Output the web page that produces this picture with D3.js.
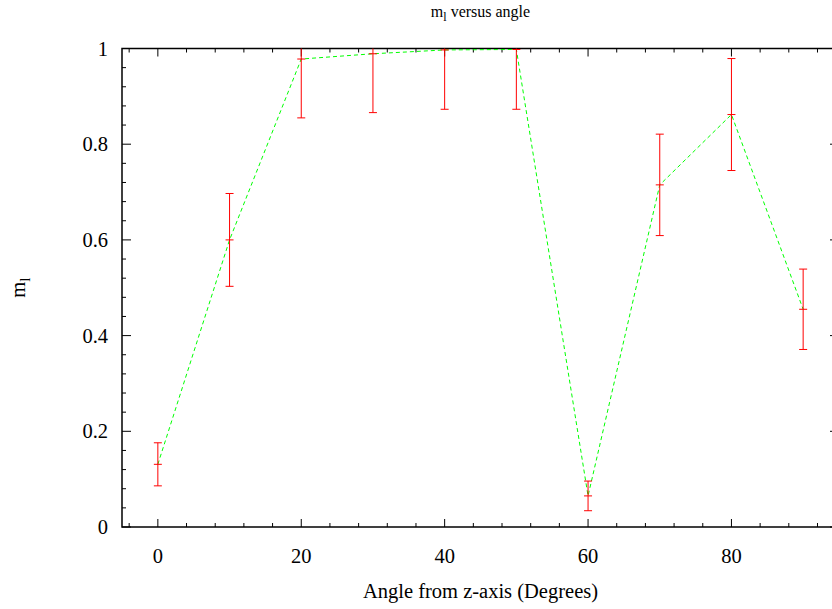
<!DOCTYPE html>
<html>
<head>
<meta charset="utf-8">
<script src="https://cdn.jsdelivr.net/npm/d3@7"></script>
<style>
  body { margin: 0; background: #fff; }
  svg { display: block; font-family: "Liberation Serif", "DejaVu Serif", serif; }
</style>
</head>
<body>
<svg id="chart" width="832" height="609"></svg>
<script>
// data
const angles = [0, 10, 20, 30, 40, 50, 60, 70, 80, 90];
const mlValues = [0.131, 0.600, 0.978, 0.989, 0.997, 0.998, 0.065, 0.715, 0.862, 0.455];
const mlErrors = [0.045, 0.097, 0.123, 0.123, 0.124, 0.125, 0.031, 0.106, 0.117, 0.084];
const xMajorTicks = [0, 20, 40, 60, 80];
const yMajorTicks = [0, 0.2, 0.4, 0.6, 0.8, 1];

const width = 832, height = 609;
const margin = { top: 48.5, right: -7, bottom: 82, left: 122 };

const svg = d3.select('#chart');

const x = d3.scaleLinear()
  .domain([-5, 95])
  .range([margin.left, width - margin.right]);

const y = d3.scaleLinear()
  .domain([0, 1])
  .range([height - margin.bottom, margin.top]);

const x0 = x.range()[0], x1 = x.range()[1];
const y0 = y.range()[0], y1 = y.range()[1];

svg.append('defs').append('clipPath')
  .attr('id', 'plot-clip')
  .append('rect')
  .attr('x', x0).attr('y', y1)
  .attr('width', x1 - x0).attr('height', y0 - y1);

// minor ticks: every 4 on x, every 0.04 on y
const xMinor = d3.range(-4, 95, 4).filter(v => xMajorTicks.indexOf(v) < 0);
const yMinor = d3.range(0, 1.0001, 0.04).map(v => +v.toFixed(2))
  .filter(v => yMajorTicks.indexOf(v) < 0);

const tickG = svg.append('g').attr('stroke', '#000').attr('stroke-width', 1);

function xTick(v, len) {
  tickG.append('line')
    .attr('x1', x(v)).attr('x2', x(v))
    .attr('y1', y0).attr('y2', y0 - len);
  tickG.append('line')
    .attr('x1', x(v)).attr('x2', x(v))
    .attr('y1', y1).attr('y2', y1 + len);
}
function yTick(v, len) {
  tickG.append('line')
    .attr('x1', x0).attr('x2', x0 + len)
    .attr('y1', y(v)).attr('y2', y(v));
  tickG.append('line')
    .attr('x1', x1).attr('x2', x1 - len)
    .attr('y1', y(v)).attr('y2', y(v));
}
xMajorTicks.forEach(v => xTick(v, 8));
xMinor.forEach(v => xTick(v, 4));
yMajorTicks.forEach(v => yTick(v, 9));
yMinor.forEach(v => yTick(v, 4));

// frame
svg.append('rect')
  .attr('x', x0).attr('y', y1)
  .attr('width', x1 - x0).attr('height', y0 - y1)
  .attr('fill', 'none')
  .attr('stroke', '#000')
  .attr('stroke-width', 1.5);

// tick labels
svg.append('g').selectAll('text')
  .data(xMajorTicks)
  .enter()
  .append('text')
  .attr('x', d => x(d))
  .attr('y', y0 + 36)
  .attr('text-anchor', 'middle')
  .attr('font-size', 20.5)
  .text(d => d);

svg.append('g').selectAll('text')
  .data(yMajorTicks)
  .enter()
  .append('text')
  .attr('x', x0 - 14)
  .attr('y', d => y(d) + 7)
  .attr('text-anchor', 'end')
  .attr('font-size', 20.5)
  .text(d => d);

// axis titles
svg.append('text')
  .attr('x', (x0 + x1) / 2)
  .attr('y', 598)
  .attr('text-anchor', 'middle')
  .attr('font-size', 20.5)
  .text('Angle from z-axis (Degrees)');

const yLab = svg.append('text')
  .attr('transform', 'translate(25,' + ((y0 + y1) / 2) + ') rotate(-90)')
  .attr('text-anchor', 'middle')
  .attr('font-size', 20.5);
yLab.append('tspan').text('m');
yLab.append('tspan').attr('font-size', 15).attr('dy', 5).text('l');

const title = svg.append('text')
  .attr('x', (x0 + x1) / 2)
  .attr('y', 17)
  .attr('text-anchor', 'middle')
  .attr('font-size', 16);
title.append('tspan').text('m');
title.append('tspan').attr('font-size', 12).attr('dy', 4).text('l');
title.append('tspan').attr('dy', -4).text(' versus angle');

// plotted data
const points = angles.map((a, i) => ({ a: a, v: mlValues[i], e: mlErrors[i] }));
const plot = svg.append('g').attr('clip-path', 'url(#plot-clip)');

const line = d3.line()
  .x(d => x(d.a))
  .y(d => y(d.v));

plot.append('path')
  .datum(points)
  .attr('d', line)
  .attr('fill', 'none')
  .attr('stroke', '#00ff00')
  .attr('stroke-width', 1)
  .attr('stroke-dasharray', '4,3');

const bars = plot.append('g')
  .attr('stroke', '#ff0000')
  .attr('stroke-width', 1);

const cap = 4;
points.forEach(d => {
  const cx = x(d.a);
  bars.append('line')
    .attr('x1', cx).attr('x2', cx)
    .attr('y1', y(d.v - d.e)).attr('y2', y(d.v + d.e));
  [d.v - d.e, d.v, d.v + d.e].forEach(v => {
    bars.append('line')
      .attr('x1', cx - cap).attr('x2', cx + cap)
      .attr('y1', y(v)).attr('y2', y(v));
  });
});
</script>
</body>
</html>
